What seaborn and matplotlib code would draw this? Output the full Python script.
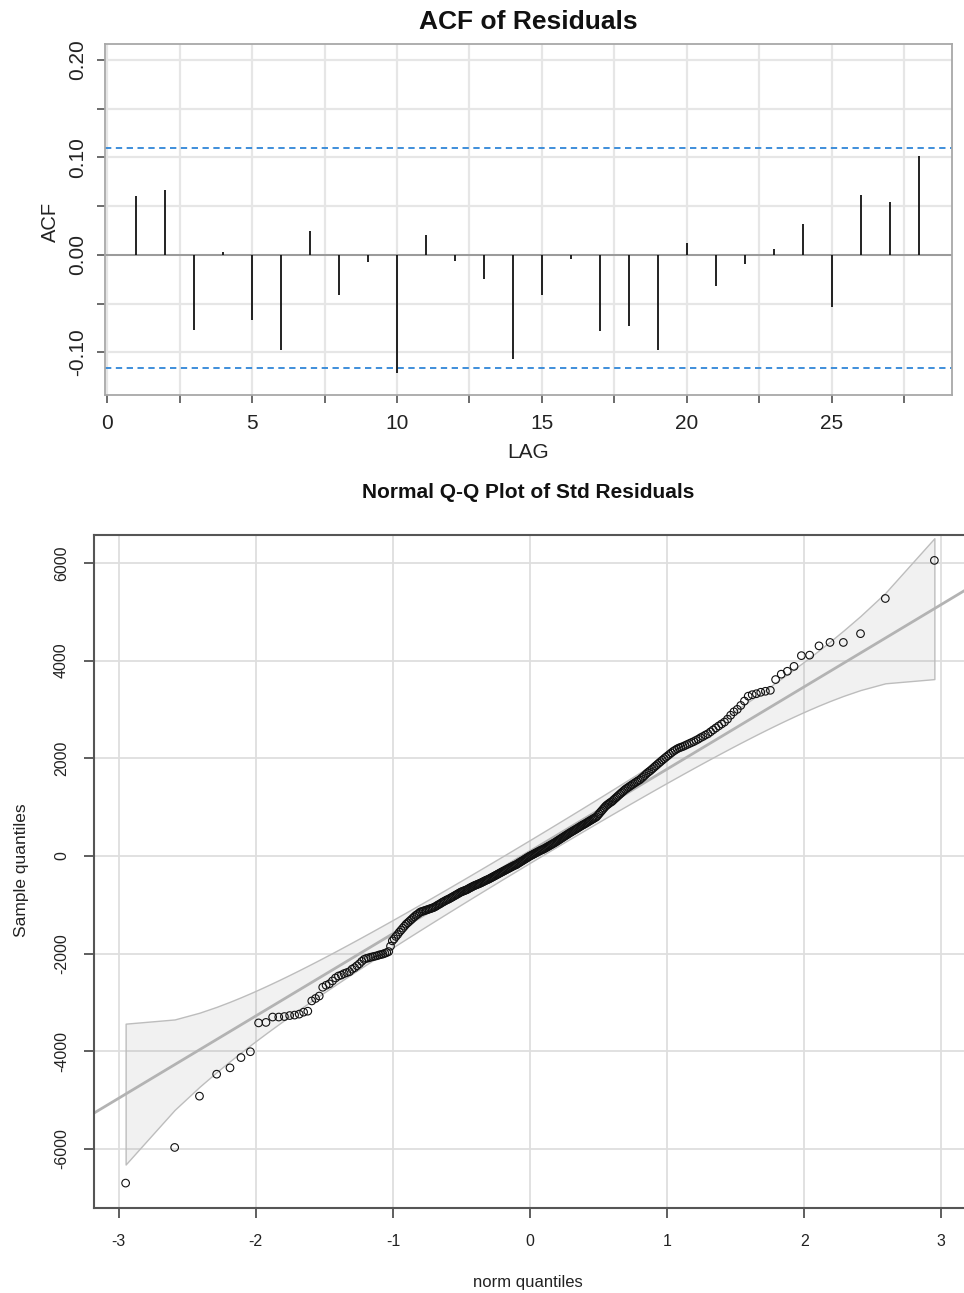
from statistics import NormalDist

import matplotlib.pyplot as plt
import numpy as np
import seaborn as sns

sns.set_style('white')
plt.rcParams['font.family'] = ['Liberation Sans', 'DejaVu Sans']
plt.rcParams['axes.unicode_minus'] = False

# ACF of residuals, lags 1..28
lags = list(range(1, 29))
acf_values = [
    0.061, 0.067, -0.077, 0.003, -0.067, -0.097, 0.025, -0.041, -0.007, -0.121,
    0.020, -0.006, -0.025, -0.107, -0.041, -0.004, -0.078, -0.073, -0.097, 0.012,
    -0.032, -0.009, 0.006, 0.032, -0.053, 0.062, 0.054, 0.102,
]

# sorted residuals (314 obs)
sample_q = [
    -6700, -5970, -4920, -4470, -4340, -4130, -4010, -3420, -3410, -3300,
    -3300, -3290, -3270, -3260, -3240, -3200, -3180, -2970, -2920, -2870,
    -2690, -2650, -2620, -2560, -2500, -2460, -2440, -2410, -2390, -2370,
    -2320, -2290, -2250, -2210, -2160, -2120, -2100, -2090, -2075, -2065,
    -2055, -2045, -2030, -2020, -2010, -1995, -1980, -1960, -1850, -1740,
    -1700, -1650, -1610, -1560, -1520, -1480, -1440, -1400, -1370, -1340,
    -1310, -1280, -1250, -1220, -1200, -1175, -1150, -1140, -1130, -1120,
    -1110, -1100, -1090, -1080, -1070, -1060, -1045, -1030, -1010, -995,
    -980, -960, -945, -930, -915, -900, -890, -875, -860, -845,
    -830, -815, -800, -785, -770, -755, -740, -730, -720, -710,
    -700, -690, -675, -660, -648, -635, -622, -610, -600, -590,
    -580, -570, -560, -548, -536, -524, -512, -500, -490, -480,
    -468, -455, -443, -430, -418, -405, -392, -380, -367, -355,
    -342, -330, -318, -306, -294, -282, -270, -258, -246, -234,
    -222, -210, -198, -190, -180, -165, -150, -136, -122, -108,
    -94, -80, -66, -52, -38, -24, -10, 2, 14, 26,
    38, 50, 62, 74, 86, 98, 110, 120, 130, 140,
    153, 166, 179, 192, 205, 218, 231, 244, 257, 270,
    285, 300, 315, 330, 345, 360, 375, 390, 405, 420,
    435, 450, 465, 480, 494, 508, 522, 536, 550, 565,
    580, 595, 610, 625, 638, 650, 665, 680, 695, 710,
    725, 740, 755, 770, 785, 800, 830, 860, 890, 920,
    950, 980, 1010, 1035, 1055, 1075, 1095, 1110, 1135, 1160,
    1185, 1210, 1235, 1260, 1285, 1310, 1335, 1360, 1380, 1400,
    1420, 1440, 1460, 1480, 1500, 1520, 1540, 1557, 1585, 1610,
    1640, 1670, 1700, 1725, 1750, 1780, 1810, 1840, 1870, 1900,
    1930, 1960, 1990, 2020, 2050, 2080, 2110, 2140, 2165, 2190,
    2210, 2225, 2240, 2260, 2280, 2300, 2320, 2340, 2365, 2390,
    2420, 2445, 2475, 2500, 2540, 2580, 2620, 2660, 2700, 2740,
    2800, 2880, 2950, 3000, 3080, 3170, 3270, 3300, 3320, 3350,
    3370, 3390, 3610, 3720, 3780, 3880, 4100, 4110, 4300, 4370,
    4370, 4550, 5270, 6050,
]

# reference line
line_intercept = 92
line_slope = 1685

W, H = 964, 1293
fig = plt.figure(figsize=(W / 100, H / 100), dpi=100)


def px_axes(left, top, right, bottom):
    return fig.add_axes([left / W, 1 - bottom / H, (right - left) / W, (bottom - top) / H])


# ---------------- ACF ----------------
ax1 = px_axes(105, 44, 952, 395)
n = len(sample_q)
upper = -1 / n + 2 / np.sqrt(n)
lower = -1 / n - 2 / np.sqrt(n)

ax1.set_xlim(-0.07, 29.14)
ax1.set_ylim(-0.1436, 0.2164)
ax1.set_xticks(np.arange(0, 26, 5))
ax1.set_xticks(np.arange(2.5, 28, 5), minor=True)
ax1.set_yticks([-0.1, 0.0, 0.1, 0.2])
ax1.set_yticklabels(['-0.10', '0.00', '0.10', '0.20'])
ax1.set_yticks([-0.05, 0.05, 0.15], minor=True)
ax1.grid(which='both', color='#e6e6e6', lw=1.6, zorder=0)
ax1.set_axisbelow(True)

ax1.vlines(lags, 0, acf_values, color='#111111', lw=1.3, zorder=3)
ax1.axhline(0, color='#858585', lw=1.1, zorder=2)
for b in (upper, lower):
    ax1.axhline(b, color='#2f86d8', lw=1.3, ls=(0, (3.5, 2.5)), zorder=2)

for sp in ax1.spines.values():
    sp.set_color('#a8a8a8')
    sp.set_linewidth(1.3)
ax1.tick_params(axis='both', which='both', bottom=True, left=True, direction='out',
                color='#444444', width=1.1, length=6, labelsize=15, labelcolor='#222222')
ax1.tick_params(axis='x', pad=8)
ax1.tick_params(axis='y', pad=7, labelrotation=90)
for lab in ax1.get_yticklabels():
    lab.set_va('center')

fig.text(528 / W, 1 - 22 / H, 'ACF of Residuals', ha='center', va='center',
         fontsize=19, fontweight='bold', color='#111111')
fig.text(528 / W, 1 - 452 / H, 'LAG', ha='center', va='center', fontsize=15, color='#222222')
fig.text(50 / W, 1 - 222 / H, 'ACF', ha='center', va='center', rotation=90,
         fontsize=14.5, color='#222222')

# ---------------- Q-Q ----------------
ax2 = px_axes(94, 535, 966, 1208)
nd = NormalDist()
probs = (np.arange(n) + 0.5) / n
theo = np.array([nd.inv_cdf(p) for p in probs])
sample_sorted = np.sort(sample_q)

fit = line_intercept + line_slope * theo
dens = np.array([nd.pdf(z) for z in theo])
se = line_slope / dens * np.sqrt(probs * (1 - probs) / n)
zz = nd.inv_cdf(0.975)

ax2.set_xlim(-3.18, 3.18)
ax2.set_ylim(-7210, 6570)
ax2.set_xticks(range(-3, 4))
ax2.set_yticks(range(-6000, 6001, 2000))
ax2.grid(color='#dedede', lw=1.3, zorder=0)
ax2.set_axisbelow(True)

ax2.fill_between(theo, fit - zz * se, fit + zz * se, facecolor=(0.5, 0.5, 0.5, 0.11),
                 edgecolor='#bdbdbd', lw=1.0, zorder=1)
xl = np.array([-3.4, 3.4])
sns.lineplot(x=xl, y=line_intercept + line_slope * xl, ax=ax2, color='#b3b3b3', lw=2.0, zorder=2)
sns.scatterplot(x=theo, y=sample_sorted, ax=ax2, marker='o', s=30, facecolor='none',
                edgecolor='#111111', linewidth=0.8, zorder=3)

for sp in ax2.spines.values():
    sp.set_color('#555555')
    sp.set_linewidth(1.5)
ax2.tick_params(axis='both', which='both', bottom=True, left=True, direction='out',
                color='#333333', width=1.1, length=7, labelsize=11.5, labelcolor='#222222')
ax2.tick_params(axis='x', pad=12)
ax2.tick_params(axis='y', pad=11, labelrotation=90)
for lab in ax2.get_yticklabels():
    lab.set_va('center')
ax2.set_xlabel('')
ax2.set_ylabel('')

fig.text(528 / W, 1 - 493 / H, 'Normal Q-Q Plot of Std Residuals', ha='center', va='center',
         fontsize=15, fontweight='bold', color='#111111')
fig.text(528 / W, 1 - 1283 / H, 'norm quantiles', ha='center', va='center', fontsize=12,
         color='#222222')
fig.text(22 / W, 1 - 870 / H, 'Sample quantiles', ha='center', va='center', rotation=90,
         fontsize=12.5, color='#222222')

fig.savefig('out.png', dpi=100)
